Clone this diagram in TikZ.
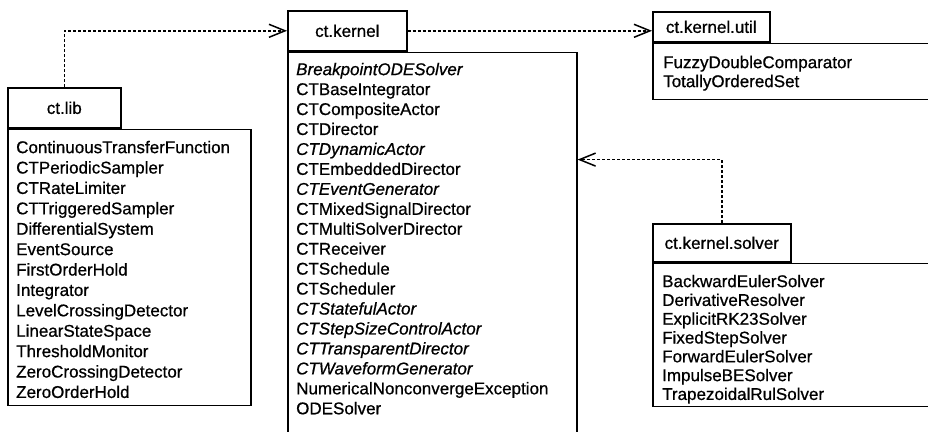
\documentclass[tikz,border=0pt]{standalone}
\usepackage{fontspec}
\setmainfont{Liberation Sans}[FakeBold=0.7]
\usetikzlibrary{arrows.meta}

\begin{document}
\begin{tikzpicture}[x=1pt,y=-1pt,
  pkgtab/.style={draw,line width=1.6pt,anchor=north west,inner sep=0pt,
    font=\fontsize{17pt}{20pt}\selectfont},
  pkgbody/.style={draw,line width=1.6pt,anchor=north west,inner sep=0pt},
  classlist/.style={anchor=north west,inner sep=0pt,align=left,
    font=\fontsize{17pt}{#1}\selectfont},
  depends/.style={line width=1.5pt,dash pattern=on 3pt off 2pt,
    -{Straight Barb[length=16pt,width=13pt,line width=1.5pt]}}]
  \useasboundingbox (0,0) rectangle (928,431);
  \clip (0,0) rectangle (928,431);

  % ct.lib
  \node[pkgtab,minimum width=113pt,minimum height=40pt] (lib) at (7,87) {ct.lib};
  \node[pkgbody,minimum width=243pt,minimum height=276pt] (libbody) at (lib.south west) {};
  \node[classlist=20.4pt] (liblist) at ([shift={(9,12)}]libbody.north west) {%
    ContinuousTransferFunction\\CTPeriodicSampler\\CTRateLimiter\\
    CTTriggeredSampler\\DifferentialSystem\\EventSource\\FirstOrderHold\\
    Integrator\\LevelCrossingDetector\\LinearStateSpace\\ThresholdMonitor\\
    ZeroCrossingDetector\\ZeroOrderHold};

  % ct.kernel
  \node[pkgtab,minimum width=119pt,minimum height=40pt] (kernel) at (287,10) {ct.kernel};
  \node[pkgbody,minimum width=289pt,minimum height=400pt] (kernelbody) at (kernel.south west) {};
  \node[classlist=19.95pt] (kernellist) at ([shift={(9,11)}]kernelbody.north west) {%
    \textit{BreakpointODESolver}\\CTBaseIntegrator\\CTCompositeActor\\
    CTDirector\\\textit{CTDynamicActor}\\CTEmbeddedDirector\\
    \textit{CTEventGenerator}\\CTMixedSignalDirector\\CTMultiSolverDirector\\
    CTReceiver\\CTSchedule\\CTScheduler\\\textit{CTStatefulActor}\\
    \textit{CTStepSizeControlActor}\\\textit{CTTransparentDirector}\\
    \textit{CTWaveformGenerator}\\NumericalNonconvergeException\\ODESolver};

  % ct.kernel.util
  \node[pkgtab,minimum width=117pt,minimum height=30pt] (util) at (652,11) {ct.kernel.util};
  \node[pkgbody,minimum width=300pt,minimum height=56pt] (utilbody) at (util.south west) {};
  \node[classlist=19pt] (utillist) at ([shift={(11,13)}]utilbody.north west) {%
    FuzzyDoubleComparator\\TotallyOrderedSet};

  % ct.kernel.solver
  \node[pkgtab,minimum width=138pt,minimum height=38pt] (solver) at (652,223) {ct.kernel.solver};
  \node[pkgbody,minimum width=300pt,minimum height=143pt] (solverbody) at (solver.south west) {};
  \node[classlist=18.8pt] (solverlist) at ([shift={(10,12)}]solverbody.north west) {%
    BackwardEulerSolver\\DerivativeResolver\\ExplicitRK23Solver\\
    FixedStepSolver\\ForwardEulerSolver\\ImpulseBESolver\\TrapezoidalRulSolver};

  % dependencies
  \coordinate (solverin) at ([shift={(0,108)}]kernelbody.north east);
  \draw[depends] (lib.north) |- (kernel.west);
  \draw[depends] (kernel.east) -- (util.west |- kernel.east);
  \draw[depends] (solver.north) |- (solverin);
\end{tikzpicture}
\end{document}
